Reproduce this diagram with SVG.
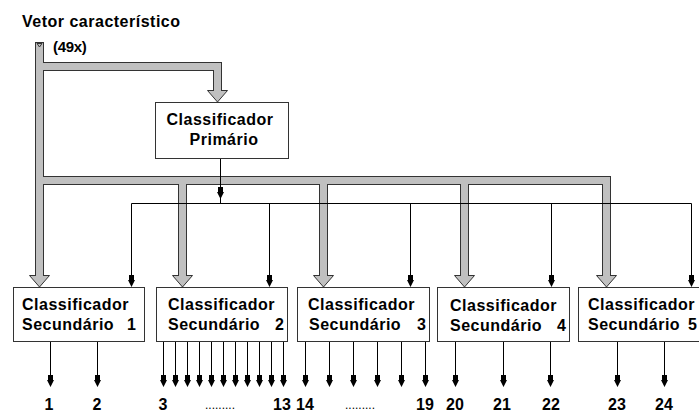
<svg xmlns="http://www.w3.org/2000/svg" xmlns:xlink="http://www.w3.org/1999/xlink" width="699" height="412" viewBox="0 0 699 412">
  <style>
    .t { font-family: "Liberation Sans", Arial, sans-serif; font-weight: bold; font-size: 16px; letter-spacing: 0.5px; fill: #000; }
    .lbl { font-family: "Liberation Sans", Arial, sans-serif; font-weight: bold; font-size: 16px; fill: #000; text-anchor: middle; }
    .dots { font-family: "Liberation Sans", Arial, sans-serif; font-size: 12px; fill: #000; }
    .box { fill: #fff; stroke: #333; stroke-width: 1; }
    .pipe-out { fill: none; stroke: #333; stroke-width: 9; stroke-linejoin: miter; stroke-linecap: butt; }
    .pipe-in { fill: none; stroke: #c0c0c0; stroke-width: 7; stroke-linejoin: miter; stroke-linecap: butt; }
    .bighead { fill: #c0c0c0; stroke: #333; stroke-width: 1; stroke-linejoin: miter; }
    .wire { fill: none; stroke: #000; stroke-width: 1; }
  </style>
  <defs>
    <!-- small black arrowhead, tip at the origin -->
    <path id="ah" d="M-2.5,-12 H2.5 V-7 H3.5 L0,0 L-3.5,-7 H-2.5 Z" fill="#000"/>
    <!-- wide hollow arrowhead for the feature pipes, tip at the origin -->
    <polygon id="bh" class="bighead" points="-10,-11.5 10,-11.5 0,0"/>
  </defs>

  <rect width="699" height="412" fill="#fff"/>

  <g id="connectors">
    <!-- feature-vector pipes: dark outline pass -->
    <path class="pipe-out" d="M39.5,42 V276 M39.5,66.5 H217.5 V91 M39.5,180.5 H606.5 V276 M182.5,180.5 V276 M323.5,180.5 V276 M464.5,180.5 V276"/>
    <!-- pipe arrowheads -->
    <use xlink:href="#bh" x="217.5" y="102"/>
    <use xlink:href="#bh" x="39.5" y="287"/>
    <use xlink:href="#bh" x="182.5" y="287"/>
    <use xlink:href="#bh" x="323.5" y="287"/>
    <use xlink:href="#bh" x="464.5" y="287"/>
    <use xlink:href="#bh" x="606.5" y="287"/>
    <!-- feature-vector pipes: grey fill pass -->
    <path class="pipe-in" d="M39.5,43 V277 M39.5,66.5 H217.5 V92 M39.5,180.5 H606.5 V277 M182.5,180.5 V277 M323.5,180.5 V277 M464.5,180.5 V277"/>
    <!-- entry mark at the top of the pipe -->
    <polygon points="37,43.5 42,43.5 39.5,47" fill="none" stroke="#333" stroke-width="1"/>

    <!-- primary classifier output bus -->
    <path class="wire" d="M220.5,158 V203.5 M131.5,203.5 H691.5 M131.5,203.5 V285 M269.5,203.5 V285 M410.5,203.5 V285 M551.5,203.5 V285 M691.5,203.5 V285"/>
    <use xlink:href="#ah" x="220.5" y="199"/>
    <use xlink:href="#ah" x="131.5" y="287"/>
    <use xlink:href="#ah" x="269.5" y="287"/>
    <use xlink:href="#ah" x="410.5" y="287"/>
    <use xlink:href="#ah" x="551.5" y="287"/>
    <use xlink:href="#ah" x="691.5" y="287"/>

    <!-- secondary classifier outputs -->
    <path class="wire" d="M50.5,341 V385 M97.5,341 V385
      M163.5,341 V385 M175.5,341 V385 M187.5,341 V385 M199.5,341 V385 M211.5,341 V385 M223.5,341 V385 M235.5,341 V385 M247.5,341 V385 M259.5,341 V385 M271.5,341 V385 M283.5,341 V385
      M305.5,341 V385 M329.5,341 V385 M353.5,341 V385 M377.5,341 V385 M401.5,341 V385 M425.5,341 V385
      M455.5,341 V385 M503.5,341 V385 M550.5,341 V385
      M617.5,341 V385 M664.5,341 V385"/>
    <use xlink:href="#ah" x="50.5" y="387"/>
    <use xlink:href="#ah" x="97.5" y="387"/>
    <use xlink:href="#ah" x="163.5" y="387"/>
    <use xlink:href="#ah" x="175.5" y="387"/>
    <use xlink:href="#ah" x="187.5" y="387"/>
    <use xlink:href="#ah" x="199.5" y="387"/>
    <use xlink:href="#ah" x="211.5" y="387"/>
    <use xlink:href="#ah" x="223.5" y="387"/>
    <use xlink:href="#ah" x="235.5" y="387"/>
    <use xlink:href="#ah" x="247.5" y="387"/>
    <use xlink:href="#ah" x="259.5" y="387"/>
    <use xlink:href="#ah" x="271.5" y="387"/>
    <use xlink:href="#ah" x="283.5" y="387"/>
    <use xlink:href="#ah" x="305.5" y="387"/>
    <use xlink:href="#ah" x="329.5" y="387"/>
    <use xlink:href="#ah" x="353.5" y="387"/>
    <use xlink:href="#ah" x="377.5" y="387"/>
    <use xlink:href="#ah" x="401.5" y="387"/>
    <use xlink:href="#ah" x="425.5" y="387"/>
    <use xlink:href="#ah" x="455.5" y="387"/>
    <use xlink:href="#ah" x="503.5" y="387"/>
    <use xlink:href="#ah" x="550.5" y="387"/>
    <use xlink:href="#ah" x="617.5" y="387"/>
    <use xlink:href="#ah" x="664.5" y="387"/>
  </g>

  <g id="vetor">
    <text class="t" x="22" y="27">Vetor característico</text>
    <text class="t" x="53" y="52" style="font-size:15px;letter-spacing:-0.3px">(49x)</text>
  </g>

  <g id="primario">
    <rect class="box" x="155.5" y="102.5" width="133" height="56"/>
    <text class="t" x="220" y="125" text-anchor="middle">Classificador</text>
    <text class="t" x="224" y="145" text-anchor="middle">Primário</text>
  </g>

  <g id="secundario1">
    <rect class="box" x="13.5" y="287.5" width="131" height="54"/>
    <text class="t" x="22" y="310">Classificador</text>
    <text class="t" x="22" y="330">Secundário<tspan x="127">1</tspan></text>
  </g>

  <g id="secundario2">
    <rect class="box" x="156.5" y="287.5" width="131" height="54"/>
    <text class="t" x="168" y="310">Classificador</text>
    <text class="t" x="168" y="330">Secundário<tspan x="275">2</tspan></text>
  </g>

  <g id="secundario3">
    <rect class="box" x="297.5" y="287.5" width="132" height="54"/>
    <text class="t" x="308" y="310">Classificador</text>
    <text class="t" x="309" y="330">Secundário<tspan x="417">3</tspan></text>
  </g>

  <g id="secundario4">
    <rect class="box" x="437.5" y="287.5" width="132" height="54"/>
    <text class="t" x="450" y="311">Classificador</text>
    <text class="t" x="450" y="331">Secundário<tspan x="557">4</tspan></text>
  </g>

  <g id="secundario5">
    <rect class="box" x="578.5" y="287.5" width="132" height="54"/>
    <text class="t" x="588" y="310">Classificador</text>
    <text class="t" x="588" y="330">Secundário<tspan x="688">5</tspan></text>
  </g>

  <g id="saidas">
    <text class="lbl" x="49" y="410">1</text>
    <text class="lbl" x="97" y="410">2</text>
    <text class="lbl" x="163" y="410">3</text>
    <text class="dots" x="205" y="409">.........</text>
    <text class="lbl" x="282" y="410">13</text>
    <text class="lbl" x="305" y="410">14</text>
    <text class="dots" x="345" y="409">.........</text>
    <text class="lbl" x="425" y="410">19</text>
    <text class="lbl" x="455" y="410">20</text>
    <text class="lbl" x="502" y="410">21</text>
    <text class="lbl" x="551" y="410">22</text>
    <text class="lbl" x="617" y="410">23</text>
    <text class="lbl" x="664" y="410">24</text>
  </g>
</svg>
